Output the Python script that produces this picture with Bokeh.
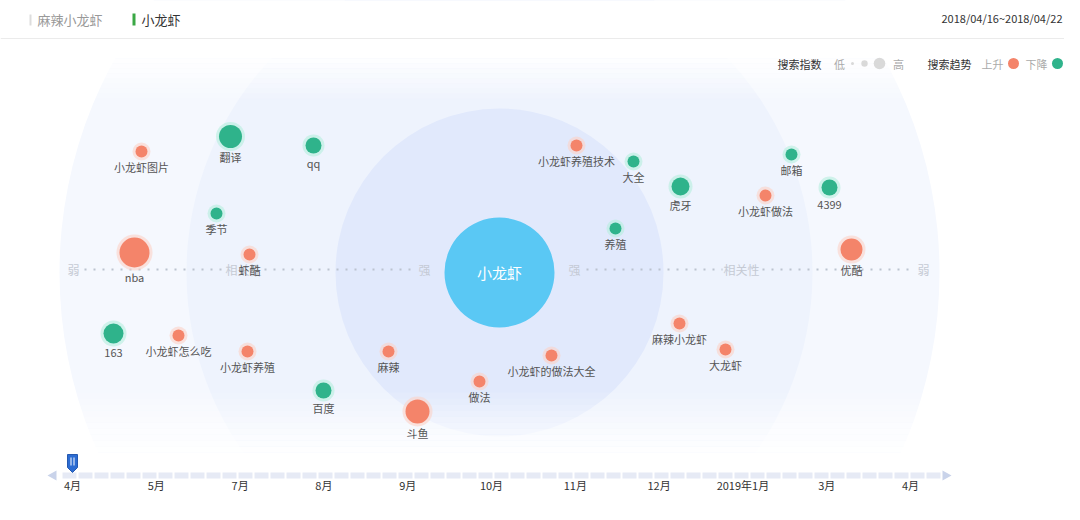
from bokeh.plotting import figure
from bokeh.models import Range1d, ColumnDataSource
from bokeh.core.properties import value
from bokeh.embed import file_html
from bokeh.resources import INLINE

FONT = value("Noto Sans CJK SC")

# ---- data ----
tabs = ["麻辣小龙虾", "小龙虾"]
date_range = "2018/04/16~2018/04/22"
center_word = "小龙虾"

words = ["小龙虾图片", "翻译", "qq", "季节", "nba", "虾酷", "163", "小龙虾怎么吃",
         "小龙虾养殖", "百度", "麻辣", "斗鱼", "做法", "小龙虾的做法大全", "麻辣小龙虾",
         "大龙虾", "小龙虾养殖技术", "大全", "虎牙", "养殖", "邮箱", "小龙虾做法", "4399", "优酷"]
word_x = [141, 230, 313, 216, 134, 249, 113, 178, 247, 323, 388, 417, 479, 551, 679,
          725, 576, 633, 680, 615, 791, 765, 829, 851]
word_y = [151, 136, 145, 213, 252, 254, 333, 335, 351, 390, 351, 411, 381, 355, 323,
          349, 145, 161, 186, 228, 154, 195, 187, 249]
word_r = [6, 11.5, 8, 6, 15, 6, 10, 6, 6, 8, 6, 12, 6, 6, 6,
          6, 6, 6, 9, 6, 6, 6, 8, 11]
word_trend = ["up", "down", "down", "down", "up", "up", "down", "up",
              "up", "down", "up", "up", "up", "up", "up",
              "up", "up", "down", "down", "down", "down", "up", "down", "up"]

months = ["4月", "5月", "7月", "8月", "9月", "10月", "11月", "12月", "2019年1月", "3月", "4月"]

ORANGE = "#f4846a"
GREEN = "#2fb38b"
ORANGE_GLOW = "#fcd2c6"
GREEN_GLOW = "#b5efdd"

W, H = 1064, 504
p = figure(width=W, height=H, x_range=Range1d(0, W), y_range=Range1d(H, 0),
           output_backend="svg", toolbar_location=None, min_border=0,
           x_axis_location=None, y_axis_location=None)
p.grid.visible = False
p.outline_line_color = None
p.background_fill_color = "white"
p.border_fill_color = "white"

CX, CY = 499, 272

# ---- background rings ----
p.circle([CX], [CY], radius=440, fill_color="#f5f8fe", line_color=None)
p.circle([CX], [CY], radius=313, fill_color="#eef3fd", line_color=None)
p.circle([CX], [CY], radius=164, fill_color="#e1e9fc", line_color=None)

# fade / mask top and bottom
p.quad(left=0, right=W, top=0, bottom=58, fill_color="white", line_color=None)
for i in range(8):
    y0 = 58 + i * 5
    p.quad(left=0, right=W, top=y0, bottom=y0 + 5, fill_color="white",
           fill_alpha=0.85 - i * 0.1, line_color=None)
for i in range(10):
    y0 = 392 + i * 6
    p.quad(left=0, right=W, top=y0, bottom=y0 + 6, fill_color="white",
           fill_alpha=0.1 + i * 0.09, line_color=None)
p.quad(left=0, right=W, top=452, bottom=H, fill_color="white", line_color=None)

# ---- header ----
p.quad(left=29, right=31, top=14, bottom=25, fill_color="#dddddd", line_color=None)
p.quad(left=132, right=135, top=13, bottom=25, fill_color="#3aa845", line_color=None)
p.text([37, 141], [19, 19], text=tabs, text_font=FONT, text_font_size="13px",
       text_color=["#999999", "#333333"], text_baseline="middle", text_align="left")
p.text([1062], [17], text=[date_range], text_font=FONT, text_font_size="11px",
       text_color="#333333", text_baseline="middle", text_align="right")
p.segment(x0=[0], y0=[38], x1=[W], y1=[38], line_color="#ebebeb", line_width=1)

# ---- legend ----
LX = -6
p.text([783 + LX], [63], text=["搜索指数"], text_font=FONT, text_font_size="11px",
       text_color="#333333", text_baseline="middle", text_align="left")
p.text([845 + LX, 904 + LX], [63, 63], text=["低", "高"], text_font=FONT, text_font_size="11px",
       text_color="#aaaaaa", text_baseline="middle", text_align="center")
p.circle([858 + LX, 870 + LX, 885 + LX], [63, 63, 63], radius=[1.5, 3.2, 5.8],
         fill_color="#d9d9d9", line_color=None)
p.text([933 + LX], [63], text=["搜索趋势"], text_font=FONT, text_font_size="11px",
       text_color="#333333", text_baseline="middle", text_align="left")
p.text([998 + LX, 1042 + LX], [63, 63], text=["上升", "下降"], text_font=FONT,
       text_font_size="11px", text_color="#aaaaaa", text_baseline="middle", text_align="center")
p.circle([1019 + LX, 1063 + LX], [63, 63], radius=5.5, fill_color=[ORANGE, GREEN],
         line_color=None)

# ---- relevance axis ----
AY = 269
seg_x0 = [84, 264, 586, 762]
seg_x1 = [222, 414, 722, 912]
p.segment(x0=seg_x0, y0=[AY] * 4, x1=seg_x1, y1=[AY] * 4, line_color="#bcc3cf",
          line_width=2, line_dash="2 7")
p.text([73, 243, 424, 574, 741, 923], [AY] * 6,
       text=["弱", "相关性", "强", "强", "相关性", "弱"], text_font=FONT,
       text_font_size="12px", text_color="#c5cad4", text_baseline="middle", text_align="center")

# ---- center ----
p.circle([CX], [CY], radius=55, fill_color="#5ac8f4", line_color=None)
p.text([CX], [CY], text=[center_word], text_font=FONT, text_font_size="15px",
       text_color="white", text_baseline="middle", text_align="center")

# ---- bubbles ----
src = ColumnDataSource(dict(
    x=word_x, y=word_y, r=word_r, glow=[r + 3 for r in word_r],
    color=[ORANGE if t == "up" else GREEN for t in word_trend],
    gcolor=[ORANGE_GLOW if t == "up" else GREEN_GLOW for t in word_trend],
    ly=[y + r + 9 for y, r in zip(word_y, word_r)], label=words))
p.circle("x", "y", radius="glow", fill_color="gcolor", fill_alpha=0.6, line_color=None, source=src)
p.circle("x", "y", radius="r", fill_color="color", line_color=None, source=src)
p.text("x", "ly", text="label", source=src, text_font=FONT, text_font_size="11px",
       text_color="#555555", text_baseline="middle", text_align="center")

# ---- timeline ----
TY = 475
T0, STEP = 72, 83.8
tick_x = [T0 + i * STEP for i in range(len(months))]
p.segment(x0=[62], y0=[TY], x1=[942], y1=[TY], line_color="#e6eaf5", line_width=6,
          line_dash="14 2")
p.patches(xs=[[47, 56, 56], [951, 942, 942]], ys=[[TY, TY - 5, TY + 5], [TY, TY - 5, TY + 5]],
          fill_color="#c9d3ea", line_color=None)
hx = tick_x[0]
p.patch([hx - 5, hx + 5, hx + 5, hx, hx - 5], [454, 454, 467, 472, 467],
        fill_color="#2c6cd2", line_color="#2559b0", line_width=1)
p.segment(x0=[hx - 1.5, hx + 1.5], y0=[457, 457], x1=[hx - 1.5, hx + 1.5], y1=[465, 465],
          line_color="white", line_width=1)
p.text(tick_x, [484] * len(months), text=months, text_font=FONT, text_font_size="11px",
       text_color="#333333", text_baseline="middle", text_align="center")

open("out.html", "w").write(file_html(p, INLINE))
